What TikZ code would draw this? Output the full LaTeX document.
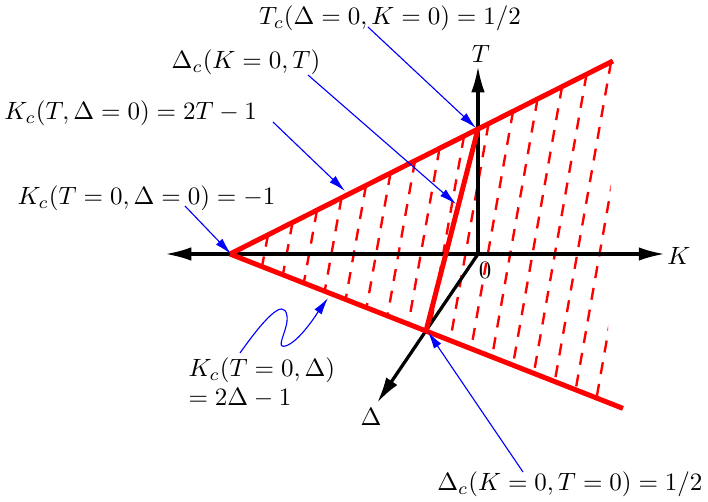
\documentclass[tikz,border=0pt]{standalone}
\usetikzlibrary{arrows.meta,calc}
\begin{document}
\begin{tikzpicture}[x=0.4pt,y=-0.4pt,
  axis/.style={line width=1.3pt,-{Latex[length=10.5pt,width=5.4pt]}},
  redline/.style={line width=2pt,red},
  hatch/.style={line width=0.95pt,red,dash pattern=on 4.8pt off 4pt},
  barrow/.style={blue,line width=0.45pt,-{Latex[length=6.8pt,width=3.5pt]}},
  lbl/.style={inner sep=0pt,font=\fontsize{10.4}{12}\selectfont}]
\useasboundingbox (0,0) rectangle (708,501);
% key points
\coordinate (O) at (478,254);
\coordinate (A) at (230,254);
\coordinate (B) at (478,129);
\coordinate (C) at (426,331);
\coordinate (UE) at ($(A)!1.544!(B)$);
\coordinate (LE) at ($(A)!2.005!(C)$);
\coordinate (Kl) at (165,254);
\coordinate (Kr) at (665,254);
\coordinate (Tt) at (478,66);
\coordinate (Dt) at (377,403);
% hatching
\begin{scope}
  \clip (A) -- (UE) -- (606,440) -- (200,440) -- cycle;
  \foreach \i in {0,...,16}{
    \pgfmathsetmacro\tu{0.0992+0.0640*\i}
    \pgfmathsetmacro\tl{0.0814+0.0532*\i}
    \draw[hatch] ($(A)!\tu!(UE)$) -- ($(A)!\tl!(LE)$);
  }
\end{scope}
% axes
\draw[axis] (O) -- (Kl);
\draw[axis] (O) -- (Kr);
\draw[axis] (O) -- (Tt);
\draw[axis] (O) -- (Dt);
\node[lbl] (Tlab) at (481,54) {$T$};
\node[lbl] (Klab) at (679,256) {$K$};
\node[lbl] (Dlab) at (371,417) {$\Delta$};
\node[lbl] (Olab) at (485,270) {$0$};
% red boundary lines
\draw[redline] (A) -- (UE);
\draw[redline] (A) -- (LE);
\draw[redline] (B) -- (C);
% labels
\node[lbl] (tc) at (390,18) {$T_c(\Delta=0,K=0)=1/2$};
\node[lbl] (dc) at (246,62) {$\Delta_c(K=0,T)$};
\node[lbl,anchor=west] (kc1) at (4,113) {$K_c(T,\Delta=0)=2T-1$};
\node[lbl,anchor=west] (kc0) at (17,198) {$K_c(T=0,\Delta=0)=-1$};
\node[lbl,anchor=west] (kd1) at (188,370) {$K_c(T=0,\Delta)$};
\node[lbl,anchor=west] (kd2) at (188,398) {$=2\Delta-1$};
\node[lbl,anchor=east] (dc0) at (703,484) {$\Delta_c(K=0,T=0)=1/2$};
% blue pointers
\coordinate (s1) at (368,27);   \coordinate (e1) at (476,128);
\coordinate (s2) at (308,75);   \coordinate (e2) at (456,204);
\coordinate (s3) at (273,122);  \coordinate (e3) at (345,191);
\coordinate (s4) at (185,206);  \coordinate (e4) at (231,254);
\coordinate (s5) at (240,353);  \coordinate (e5) at (328,298);
\coordinate (s6) at (523,472);  \coordinate (e6) at (428,332);
\draw[barrow] (s1) -- (e1);
\draw[barrow] (s2) -- (e2);
\draw[barrow] (s3) -- (e3);
\draw[barrow] (s4) -- (e4);
\draw[barrow] (s5) .. controls (262,322) and (284,296) .. (287,316)
  .. controls (289,330) and (272,352) .. (288,345)
  .. controls (302,338) and (318,312) .. (e5);
\draw[barrow] (s6) -- (e6);
\end{tikzpicture}
\end{document}
